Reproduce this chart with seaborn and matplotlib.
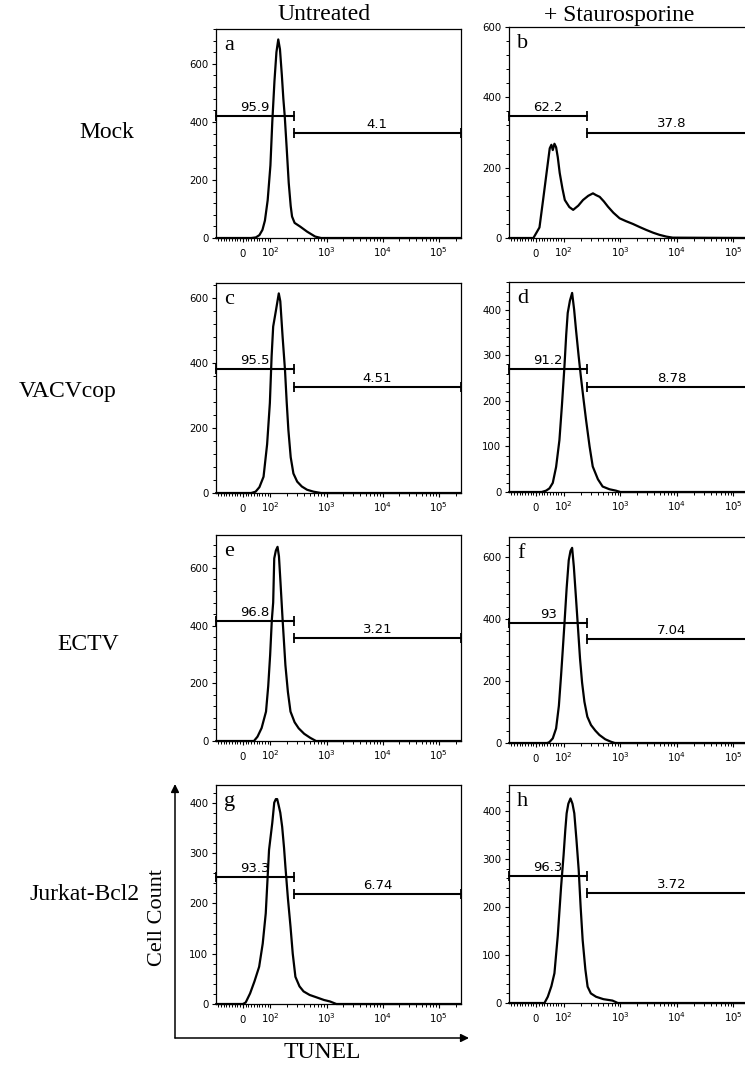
import numpy as np
import pandas as pd
import matplotlib
matplotlib.use("Agg")
import matplotlib.pyplot as plt
import seaborn as sns
from matplotlib.ticker import FixedLocator, FixedFormatter, AutoMinorLocator, MultipleLocator
from matplotlib.patches import FancyArrowPatch

# ---------------- data ----------------
row_labels = ["Mock", "VACVcop", "ECTV", "Jurkat-Bcl2"]
col_titles = ["Untreated", "+ Staurosporine"]
panel_letters = ["a", "b", "c", "d", "e", "f", "g", "h"]

a_x = [-98, 30, 47, 60, 71, 80, 90, 100, 108, 118, 128, 138, 148, 160, 170, 180, 195, 212, 230, 243, 270, 341, 450, 627, 800, 250000]
a_y = [0, 0, 2, 10, 28, 60, 130, 250, 400, 540, 640, 684, 650, 560, 480, 420, 310, 190, 110, 74, 52, 39, 22, 5, 0, 0]

b_x = [-98, -10, 12, 25, 40, 49, 55, 60, 66, 72, 78, 85, 95, 104, 125, 146, 180, 218, 270, 327, 370, 430, 510, 603, 750, 968, 1250, 1663, 2200, 2860, 3800, 4900, 6500, 8430, 250000]
b_y = [0, 0, 30, 108, 200, 255, 265, 250, 268, 258, 230, 185, 140, 108, 88, 80, 92, 108, 120, 127, 122, 117, 104, 89, 72, 56, 48, 40, 31, 23, 15, 9, 4, 1, 0]

c_x = [-98, 30, 46, 60, 75, 88, 98, 105, 112, 125, 141, 150, 165, 182, 195, 209, 230, 257, 300, 363, 450, 590, 800, 250000]
c_y = [0, 0, 4, 18, 50, 150, 277, 420, 512, 560, 614, 590, 480, 378, 280, 194, 110, 60, 35, 20, 10, 4, 0, 0]

d_x = [-98, 20, 36, 48, 60, 72, 84, 93, 102, 110, 117, 128, 140, 152, 164, 182, 200, 222, 247, 285, 324, 400, 485, 640, 830, 1000, 250000]
d_y = [0, 0, 3, 8, 20, 55, 114, 190, 272, 345, 393, 420, 437, 400, 356, 300, 253, 205, 158, 100, 56, 28, 12, 6, 3, 0, 0]

e_x = [-98, 40, 53, 68, 84, 92, 99, 106, 112, 117, 125, 134, 142, 151, 165, 185, 205, 228, 270, 319, 400, 513, 650, 250000]
e_y = [0, 0, 15, 45, 102, 190, 298, 420, 480, 633, 660, 673, 640, 552, 420, 263, 170, 102, 65, 44, 25, 11, 0, 0]

f_x = [-98, 40, 48, 60, 72, 82, 90, 96, 102, 112, 122, 131, 140, 150, 164, 178, 193, 210, 231, 260, 302, 360, 425, 540, 681, 800, 250000]
f_y = [0, 0, 3, 15, 47, 120, 219, 300, 380, 500, 590, 620, 630, 570, 467, 370, 273, 195, 133, 85, 58, 40, 26, 12, 4, 0, 0]

g_x = [-98, 0, 10, 26, 42, 59, 72, 83, 95, 108, 117, 125, 132, 140, 150, 162, 175, 185, 205, 228, 250, 279, 330, 390, 500, 673, 900, 1156, 1500, 250000]
g_y = [0, 0, 3, 21, 45, 74, 120, 180, 306, 360, 400, 407, 407, 395, 380, 352, 310, 273, 210, 154, 100, 54, 35, 25, 18, 13, 8, 5, 0, 0]

h_x = [-98, 30, 42, 55, 66, 78, 90, 99, 106, 112, 120, 131, 142, 153, 167, 183, 198, 215, 240, 263, 300, 371, 500, 725, 900, 250000]
h_y = [0, 0, 13, 35, 62, 140, 242, 308, 360, 395, 415, 426, 415, 395, 340, 277, 200, 131, 70, 34, 20, 13, 8, 5, 0, 0]

curves_x = [a_x, b_x, c_x, d_x, e_x, f_x, g_x, h_x]
curves_y = [a_y, b_y, c_y, d_y, e_y, f_y, g_y, h_y]

gate_left_pct = ["95.9", "62.2", "95.5", "91.2", "96.8", "93", "93.3", "96.3"]
gate_right_pct = ["4.1", "37.8", "4.51", "8.78", "3.21", "7.04", "6.74", "3.72"]
gate_left_y = [420, 348, 381, 270, 416, 387, 252, 265]
gate_right_y = [361, 300, 326, 231, 357, 335, 219, 229]
gate_split = 260

y_max = [720, 600, 646, 461, 714, 665, 435, 454]
y_step = [200, 200, 200, 100, 200, 200, 100, 100]

x_min, x_max = -98, 250000
x_major = [0, 1e2, 1e3, 1e4, 1e5]
x_major_labels = ["$0$", "$10^2$", "$10^3$", "$10^4$", "$10^5$"]

# ---------------- style ----------------
sns.set_theme(style="ticks")
plt.rcParams["font.family"] = ["DejaVu Sans"]
plt.rcParams["mathtext.fontset"] = "dejavusans"
plt.rcParams["axes.edgecolor"] = "black"
plt.rcParams["xtick.color"] = "black"
plt.rcParams["ytick.color"] = "black"
plt.rcParams["text.color"] = "black"
plt.rcParams["axes.labelcolor"] = "black"

W, H = 745, 1065
fig = plt.figure(figsize=(W / 100, H / 100), dpi=100)
fig.patch.set_facecolor("white")

# axes boxes in image pixels: left, right, top, bottom
boxes = [(216, 461, 29, 238), (509, 756, 27, 238),
         (216, 461, 283, 493), (509, 756, 282, 492),
         (216, 461, 535, 741), (509, 756, 537, 743),
         (216, 461, 785, 1004), (509, 756, 785, 1003)]

minor_x = ([-v for v in range(10, 100, 10)] + list(range(10, 100, 10)) +
           [m * 10 ** k for k in (2, 3, 4) for m in range(2, 10)] + [200000])

serif = "Liberation Serif"

for i in range(8):
    L, R, T, B = boxes[i]
    ax = fig.add_axes([L / W, 1 - B / H, (R - L) / W, (B - T) / H])
    ax.set_xscale("symlog", linthresh=100, linscale=0.441)
    df = pd.DataFrame({"TUNEL": curves_x[i], "count": curves_y[i]})
    sns.lineplot(data=df, x="TUNEL", y="count", ax=ax, color="black",
                 linewidth=1.6, estimator=None, clip_on=False)
    ax.set_xlim(x_min, x_max)
    ax.set_ylim(0, y_max[i])
    ax.set_xlabel("")
    ax.set_ylabel("")
    ax.xaxis.set_major_locator(FixedLocator(x_major))
    ax.xaxis.set_major_formatter(FixedFormatter(x_major_labels))
    ax.xaxis.set_minor_locator(FixedLocator(minor_x))
    ax.yaxis.set_major_locator(MultipleLocator(y_step[i]))
    ax.yaxis.set_minor_locator(AutoMinorLocator(5))
    ax.tick_params(which="major", length=3, width=0.8, labelsize=7.3)
    ax.tick_params(axis="x", which="major", pad=10.5)
    ax.tick_params(axis="y", which="major", pad=2.5)
    ax.tick_params(which="minor", length=2, width=0.7)
    for lbl in ax.get_xticklabels():
        lbl.set_verticalalignment("baseline")
    for s in ax.spines.values():
        s.set_linewidth(0.9)
        s.set_color("black")

    # gates
    ax.plot([x_min, gate_split], [gate_left_y[i]] * 2, color="black", lw=1.5,
            marker="|", ms=7, mew=1.3, clip_on=False)
    ax.plot([gate_split, x_max], [gate_right_y[i]] * 2, color="black", lw=1.5,
            marker="|", ms=7, mew=1.3, clip_on=False)
    tr = ax.xaxis.get_transform()

    def mid(x0, x1):
        f0 = tr.transform(np.array([x0]))[0]
        f1 = tr.transform(np.array([x1]))[0]
        return tr.inverted().transform(np.array([(f0 + f1) / 2]))[0]

    ax.annotate(gate_left_pct[i], xy=(mid(x_min, gate_split), gate_left_y[i]),
                xytext=(0, 1.5), textcoords="offset points", ha="center", va="bottom",
                fontsize=9.5)
    ax.annotate(gate_right_pct[i], xy=(mid(gate_split, x_max), gate_right_y[i]),
                xytext=(0, 1.5), textcoords="offset points", ha="center", va="bottom",
                fontsize=9.5)

    # panel letter
    ax.text(8 / (R - L), 1 - 21 / (B - T), panel_letters[i], transform=ax.transAxes,
            family=serif, fontsize=16, ha="left", va="baseline")

# column titles
fig.text(324 / W, 1 - 15 / H, col_titles[0], family=serif, fontsize=17, ha="center", va="center")
fig.text(619 / W, 1 - 15 / H, col_titles[1], family=serif, fontsize=17, ha="center", va="center")

# row labels
row_pos = [(107, 132), (68, 392), (88, 645), (85, 895)]
for lab, (x, y) in zip(row_labels, row_pos):
    fig.text(x / W, 1 - y / H, lab, family=serif, fontsize=17, ha="center", va="center")

# axis arrows
ox, oy = 175, 1038
fig.add_artist(FancyArrowPatch((ox / W, 1 - oy / H), (ox / W, 1 - 784 / H),
                               transform=fig.transFigure, arrowstyle="-|>",
                               mutation_scale=12, lw=1.1, color="black",
                               shrinkA=0, shrinkB=0))
fig.add_artist(FancyArrowPatch((ox / W, 1 - oy / H), (469 / W, 1 - oy / H),
                               transform=fig.transFigure, arrowstyle="-|>",
                               mutation_scale=12, lw=1.1, color="black",
                               shrinkA=0, shrinkB=0))
fig.text(158 / W, 1 - 917 / H, "Cell Count", family=serif, fontsize=16,
         rotation=90, ha="center", va="center")
fig.text(322 / W, 1 - 1053 / H, "TUNEL", family=serif, fontsize=17,
         ha="center", va="center")

fig.savefig("out.png", dpi=100)
